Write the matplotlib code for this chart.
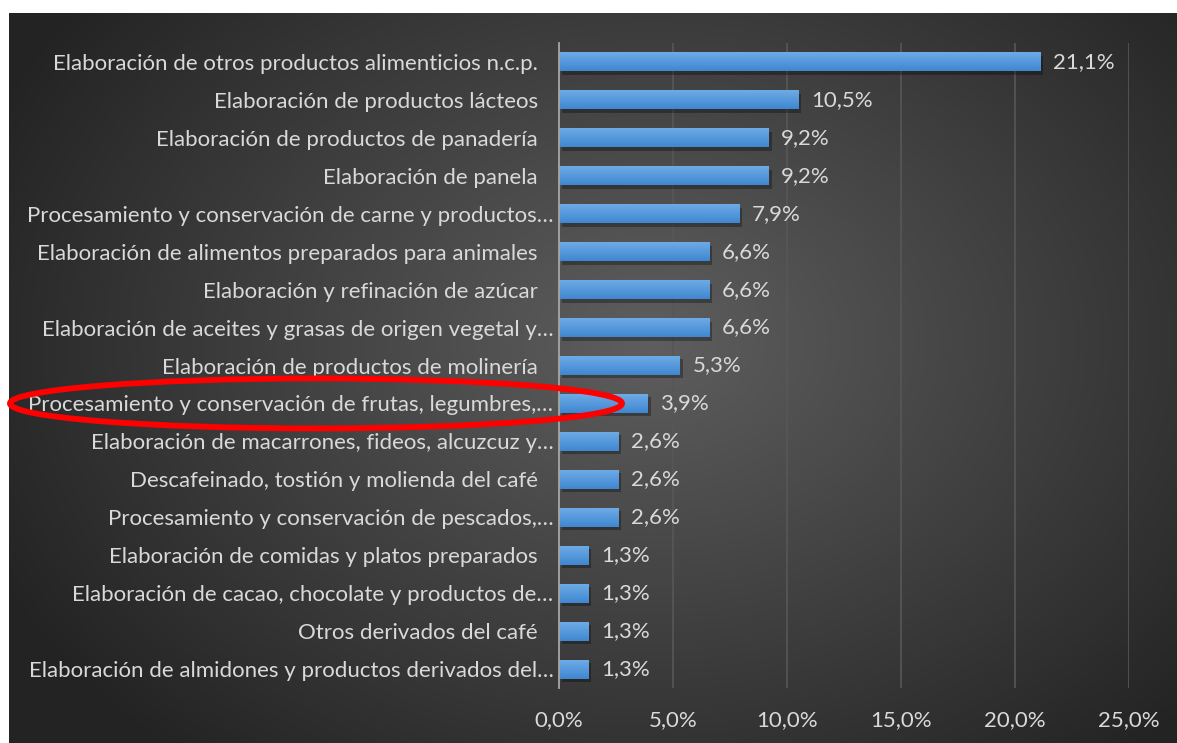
import matplotlib

matplotlib.use("Agg")

import matplotlib.pyplot as plt
import numpy as np
from matplotlib import patheffects
from matplotlib.patches import Ellipse

plt.rcParams["font.family"] = ["Lato", "DejaVu Sans"]

categories = [
    "Elaboración de otros productos alimenticios n.c.p.",
    "Elaboración de productos lácteos",
    "Elaboración de productos de panadería",
    "Elaboración de panela",
    "Procesamiento y conservación de carne y productos…",
    "Elaboración de alimentos preparados para animales",
    "Elaboración y refinación de azúcar",
    "Elaboración de aceites y grasas de origen vegetal y…",
    "Elaboración de productos de molinería",
    "Procesamiento y conservación de frutas, legumbres,…",
    "Elaboración de macarrones, fideos, alcuzcuz y…",
    "Descafeinado, tostión y molienda del café",
    "Procesamiento y conservación de pescados,…",
    "Elaboración de comidas y platos preparados",
    "Elaboración de cacao, chocolate y productos de…",
    "Otros derivados del café",
    "Elaboración de almidones y productos derivados del…",
]
shares = [21.1, 10.5, 9.2, 9.2, 7.9, 6.6, 6.6, 6.6, 5.3, 3.9, 2.6, 2.6, 2.6, 1.3, 1.3, 1.3, 1.3]
highlighted = "Procesamiento y conservación de frutas, legumbres,…"
x_ticks = [0, 5, 10, 15, 20, 25]

W, H = 1177, 743
fig = plt.figure(figsize=(W / 100, H / 100), dpi=100)
fig.patch.set_facecolor("white")

# dark panel with a soft radial glow
bg = fig.add_axes([9 / W, 0, 1 - 9 / W, 1 - 13 / H])
bg.set_axis_off()
gx, gy = np.meshgrid(np.linspace(0, 1, 400), np.linspace(0, 1, 260))
r = np.sqrt(((gx - 0.55) / 0.62) ** 2 + ((gy - 0.45) / 0.75) ** 2)
shade = np.clip(0.37 - 0.23 * r, 0.14, 0.37)
bg.imshow(np.dstack([shade] * 3), aspect="auto", extent=[0, 1, 0, 1], origin="upper")
bg.set_xlim(0, 1)
bg.set_ylim(0, 1)

ax = fig.add_axes([559 / W, 55 / H, (1129 - 559) / W, (700 - 55) / H])
ax.patch.set_alpha(0)
y = np.arange(len(categories))
ax.set_xlim(0, 25)
ax.set_ylim(len(categories) - 0.5, -0.5)

bars = ax.barh(y, shares, height=0.5, color="#4f93d8", zorder=3)
grad = np.linspace(0, 1, 50).reshape(-1, 1)
blue = np.array([0.43, 0.67, 0.90]) * (1 - grad[..., None]) + np.array([0.25, 0.53, 0.82]) * grad[..., None]
for bar in bars:
    bar.set_path_effects([
        patheffects.SimplePatchShadow(offset=(2, -2.5), shadow_rgbFace="black", alpha=0.3),
        patheffects.Normal(),
    ])
    x0, y0 = bar.get_x(), bar.get_y()
    bw, bh = bar.get_width(), bar.get_height()
    im = ax.imshow(blue, aspect="auto", extent=[x0, x0 + bw, y0 + bh, y0], zorder=4)
    im.set_clip_path(bar)

for yi, v in zip(y, shares):
    ax.text(v + 0.55, yi, f"{v:.1f}%".replace(".", ","), va="center", ha="left",
            color="#d9d9d9", fontsize=16, zorder=5)

ax.set_xticks(x_ticks)
ax.set_xticklabels([f"{t:.1f}%".replace(".", ",") for t in x_ticks])
ax.set_yticks(y)
ax.set_yticklabels(categories)
ax.tick_params(axis="both", length=0, colors="#d9d9d9", labelsize=16)
ax.tick_params(axis="x", pad=16)
# full labels sit a little further from the axis than the truncated ones
for lbl in ax.get_yticklabels():
    lbl.set_x(0 if lbl.get_text().endswith("…") else -0.0275)
ax.tick_params(axis="y", pad=4)
ax.xaxis.grid(True, color="#575757", linewidth=1.2, zorder=0)
ax.set_axisbelow(True)
for side in ["top", "right", "bottom"]:
    ax.spines[side].set_visible(False)
ax.spines["left"].set_color("#a6a6a6")
ax.spines["left"].set_linewidth(1.3)
ax.spines["left"].set_zorder(6)

# red ring around the fruit and vegetable processing row
row = categories.index(highlighted)
cy = ax.transData.transform((0, row))[1]
ring = Ellipse((316 / W, cy / H), 612 / W, 50 / H, transform=fig.transFigure,
               fill=False, edgecolor="#ff0000", linewidth=4.2, zorder=10)
fig.add_artist(ring)

fig.savefig("out.png", dpi=100)
